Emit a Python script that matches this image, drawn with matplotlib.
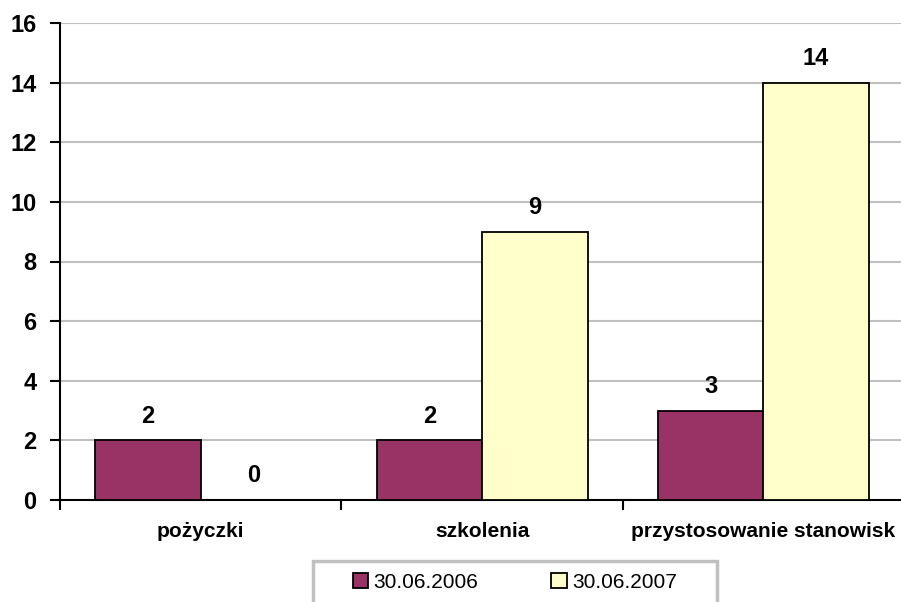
import numpy as np
import matplotlib.pyplot as plt
from matplotlib.patches import Rectangle

# Liczba przypadków wg formy pomocy
categories = ["pożyczki", "szkolenia", "przystosowanie stanowisk"]
series_names = ["30.06.2006", "30.06.2007"]
values_2006 = [2, 2, 3]
values_2007 = [0, 9, 14]

colors = ["#993366", "#FFFFCC"]

plt.rcParams["font.family"] = ["Liberation Sans", "DejaVu Sans"]

W, H = 901, 602
fig = plt.figure(figsize=(W / 100, H / 100), dpi=100)
ax = fig.add_axes([60 / W, 1 - 500 / H, 844 / W, 477 / H])

x = np.arange(len(categories))
width = 0.375

bars_a = ax.bar(x - width / 2, values_2006, width, color=colors[0],
                edgecolor="black", linewidth=1.3, label=series_names[0], zorder=3)
bars_b = ax.bar(x + width / 2, values_2007, width, color=colors[1],
                edgecolor="black", linewidth=1.3, label=series_names[1], zorder=3)

# wartości nad słupkami
for bars, vals in ((bars_a, values_2006), (bars_b, values_2007)):
    for b, v in zip(bars, vals):
        ax.annotate(f"{v}", (b.get_x() + b.get_width() / 2, v),
                    xytext=(0, 12.6), textcoords="offset points",
                    ha="center", va="baseline", fontsize=17, fontweight="bold",
                    zorder=5)

ax.set_xlim(-0.5, len(categories) - 0.5)
ax.set_ylim(0, 16)
ax.set_yticks(range(0, 17, 2))
ax.yaxis.grid(True, color="#C0C0C0", linewidth=1.5, zorder=0)
ax.set_axisbelow(True)

# kreski osi X na granicach kategorii, etykiety pośrodku
ax.set_xticks(np.arange(len(categories) + 1) - 0.5)
ax.set_xticklabels([])
ax.set_xticks(x, minor=True)
ax.set_xticklabels(categories, minor=True, fontsize=15, fontweight="bold")
ax.tick_params(axis="x", which="minor", length=0, pad=16)
ax.tick_params(axis="x", which="major", length=7, width=1.5, direction="out")
ax.tick_params(axis="y", length=7, width=1.5, direction="out", pad=10,
               labelsize=17)
for lbl in ax.get_yticklabels():
    lbl.set_fontweight("bold")

for side in ("top", "right"):
    ax.spines[side].set_visible(False)
for side in ("left", "bottom"):
    ax.spines[side].set_linewidth(1.5)

# ramka legendy (dolna krawędź poza obrazem)
fig.patches.append(Rectangle((313 / W, -0.05), 404 / W, 41 / H + 0.05,
                             transform=fig.transFigure, facecolor="white",
                             edgecolor="#C0C0C0", linewidth=2.5))
fig.legend(loc="center", bbox_to_anchor=(515 / W, 1 - 582 / H),
           ncol=2, fontsize=15, frameon=False,
           handlelength=0.75, handleheight=0.75, handletextpad=0.25,
           columnspacing=3.5, borderpad=0, borderaxespad=0)

fig.savefig("out.png", dpi=100)
